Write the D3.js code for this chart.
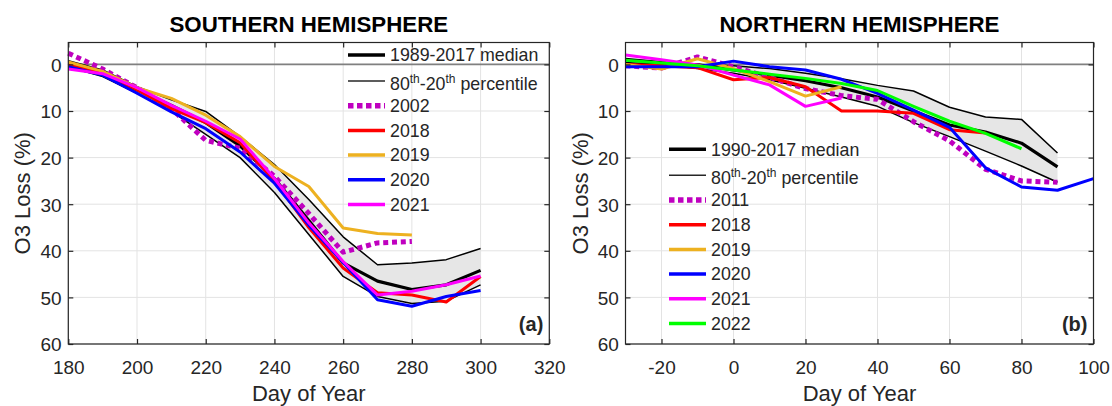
<!DOCTYPE html>
<html><head><meta charset="utf-8">
<script src="https://cdn.jsdelivr.net/npm/d3@7"></script>
<style>
body{margin:0;background:#fff}
svg{display:block}
text{font-family:"Liberation Sans",Arial,Helvetica,sans-serif}
</style>
</head><body>
<svg id="c" width="1112" height="406"></svg>
<script>
// ---------- Southern Hemisphere data ----------
const shDays   = [180,190,200,210,220,230,240,250,260,270,280,290,300];
const shUpper  = [-0.8,1.2,4.8,7.6,10.1,15.5,21.5,29,37,43,42.6,41.9,39.5];
const shMedian = [-0.3,2,5.5,8.8,12.5,17.5,24.5,33.5,42.6,46.5,48.3,47.3,44.2];
const shLower  = [0.5,2.6,6.2,10.1,15,20,27.5,36.5,45.5,49.8,51.3,50.8,47.3];
const sh2002 = [-2.4,1,5,9.5,16.3,18,24,32,40.3,38.3,38];
const sh2018 = [0,1.8,5.5,9.5,12.5,16.8,25,35,43.7,49,49.5,51,45.5];
const sh2019 = [-0.5,1.5,5,7.3,10.9,15.5,21.9,26.2,35.1,36.3,36.6];
const sh2020 = [0.5,2.3,6.2,10.2,13.8,18.8,25.5,34.5,42.5,50.5,51.9,49.8,48.5];
const sh2021 = [1,2,5,8.8,12.2,16,24.5,34,42.3,49.5,48.7,47.3,45.4];
const shXTicks = [180,200,220,240,260,280,300,320];

// ---------- Northern Hemisphere data ----------
const nhDays   = [-30,-20,-10,0,10,20,30,40,50,60,70,80,90,100];
const nhUpper  = [-0.9,-0.4,0,0.3,0.9,1.9,3.1,4.5,5.7,9.2,11.3,11.8,19];
const nhMedian = [-1.1,-0.4,0.1,1.2,2.3,3.5,5,7,10,13,14.5,16.9,22];
const nhLower  = [-0.4,0,0.9,1.9,3.3,5.1,7,9,12.5,15.5,18.6,21.8,25.3];
const nh2011 = [0.3,0.8,-1.6,0.5,2.8,5.2,6.7,7.5,12.3,16.4,22.5,25,25.3];
const nh2018 = [0,0.3,0.7,3.3,2.8,4.8,10,10,10.5,14,14.7];
const nh2019 = [0,1,-1.2,0.9,3.7,6.8,4.8];
const nh2020 = [0.5,0.5,0.5,-0.7,0.5,1.2,3.2,6.2,9.8,13.5,22.2,26.3,27,24.5];
const nh2021 = [-2,-1,0.1,2.3,4.4,9,7.2];
const nh2022 = [-0.9,-0.3,0.3,1.2,2.1,3,4.1,5.6,9,12.2,14.8,18.1];
const nhXTicks = [-20,0,20,40,60,80,100];

const yTicks = [0,10,20,30,40,50,60];

const C = {purple:"#BF00BF", red:"#FF0000", orange:"#EDB120", blue:"#0000FF", magenta:"#FF00FF", green:"#00FF00"};

const svg = d3.select("#c");
const TOP = 42.5, BOTTOM = 344;
const y = d3.scaleLinear().domain([-4.7, 60]).range([TOP, BOTTOM]);
const fmt = d => String(d); // plain hyphen minus like the original

function panel(cfg){
  const x = d3.scaleLinear().domain(cfg.xDomain).range(cfg.xRange);
  const [L,R] = cfg.xRange;
  const g = svg.append("g");

  // grid
  g.append("g").selectAll("line").data(cfg.xTicks).join("line")
    .attr("x1",d=>x(d)).attr("x2",d=>x(d)).attr("y1",TOP).attr("y2",BOTTOM)
    .attr("stroke","#e3e3e3").attr("stroke-width",1);
  g.append("g").selectAll("line").data(yTicks).join("line")
    .attr("x1",L).attr("x2",R).attr("y1",d=>y(d)).attr("y2",d=>y(d))
    .attr("stroke","#e3e3e3").attr("stroke-width",1);

  // shaded percentile band
  const n = cfg.upper.length;
  const band = cfg.days.slice(0,n).map((d,i)=>({d, u:cfg.upper[i], l:cfg.lower[i]}));
  g.append("path").datum(band)
    .attr("d", d3.area().x(p=>x(p.d)).y0(p=>y(p.u)).y1(p=>y(p.l)))
    .attr("fill","#e6e6e6");

  // zero line
  g.append("line").attr("x1",L).attr("x2",R).attr("y1",y(0)).attr("y2",y(0))
    .attr("stroke","#808080").attr("stroke-width",1.6);

  const line = d3.line().x(p=>x(p[0])).y(p=>y(p[1]));
  function series(vals, color, w, dash){
    const pts = vals.map((v,i)=>[cfg.days[i], v]);
    const p = g.append("path").datum(pts).attr("d", line)
      .attr("fill","none").attr("stroke",color).attr("stroke-width",w)
      .attr("stroke-linejoin","round");
    if(dash) p.attr("stroke-dasharray",dash);
  }
  series(cfg.upper,"#000",1.5);
  series(cfg.lower,"#000",1.5);
  series(cfg.median,"#000",3.2);
  cfg.years.forEach(s=>series(s.vals, s.color, s.dash?5:3, s.dash?"5,3.8":null));

  // frame
  g.append("rect").attr("x",L).attr("y",TOP).attr("width",R-L).attr("height",BOTTOM-TOP)
    .attr("fill","none").attr("stroke","#262626").attr("stroke-width",1.2);

  // axes with inside ticks
  const tl = 5;
  const xb = d3.axisBottom(x).tickValues(cfg.xTicks).tickFormat(fmt).tickSizeInner(-tl).tickSizeOuter(0).tickPadding(12);
  const xa = g.append("g").attr("transform",`translate(0,${BOTTOM})`).call(xb);
  const xt = d3.axisTop(x).tickValues(cfg.xTicks).tickSizeInner(-tl).tickSizeOuter(0).tickFormat("");
  const xta = g.append("g").attr("transform",`translate(0,${TOP})`).call(xt);
  const yl = d3.axisLeft(y).tickValues(yTicks).tickFormat(fmt).tickSizeInner(-tl).tickSizeOuter(0).tickPadding(12);
  const ya = g.append("g").attr("transform",`translate(${L},0)`).call(yl);
  const yr = d3.axisRight(y).tickValues(yTicks).tickSizeInner(-tl).tickSizeOuter(0).tickFormat("");
  const yra = g.append("g").attr("transform",`translate(${R},0)`).call(yr);
  [xa,xta,ya,yra].forEach(a=>{
    a.select(".domain").remove();
    a.selectAll(".tick line").attr("stroke","#262626").attr("stroke-width",1.2);
    a.selectAll("text").attr("font-size",19).attr("fill","#262626")
      .attr("font-family",'"Liberation Sans",Arial,sans-serif');
  });
  xa.selectAll(".tick text").attr("dy",null).attr("y",29.5);
  ya.selectAll(".tick text").attr("x",-6.7).attr("dy","0.36em");

  // title
  g.append("text").attr("x",(L+R)/2).attr("y",32).attr("text-anchor","middle")
    .attr("font-size",22.3).attr("font-weight","bold").attr("fill","#000").text(cfg.title);
  // axis labels
  g.append("text").attr("x",(L+R)/2).attr("y",401).attr("text-anchor","middle")
    .attr("font-size",22).attr("fill","#262626").text("Day of Year");
  g.append("text").attr("transform",`translate(${L-38},${(TOP+BOTTOM)/2}) rotate(-90)`)
    .attr("text-anchor","middle").attr("font-size",22).attr("fill","#262626").text("O3 Loss (%)");
  // panel letter
  g.append("text").attr("x",R-6).attr("y",331).attr("text-anchor","end")
    .attr("font-size",20).attr("font-weight","bold").attr("fill","#262626").text(cfg.letter);

  // legend
  const lg = g.append("g");
  const entries = [
    {label:cfg.medianLabel, color:"#000", w:3.5},
    {label:null, color:"#262626", w:1.5},
    ...cfg.years.map(s=>({label:s.name, color:s.color, w:s.dash?5.5:3.5, dash:s.dash}))
  ];
  entries.forEach((e,i)=>{
    const ly = cfg.legY + (i===0?0:26+(i-1)*24.7);
    const ln = lg.append("line").attr("x1",cfg.legX).attr("x2",cfg.legX+37)
      .attr("y1",ly).attr("y2",ly).attr("stroke",e.color).attr("stroke-width",e.w);
    if(e.dash) ln.attr("stroke-dasharray","5.5,3.5");
    const t = lg.append("text").attr("x",cfg.legX+42).attr("y",ly+6.2)
      .attr("font-size",17.8).attr("fill","#262626");
    if(e.label===null){
      t.attr("y",ly+8.5);
      t.append("tspan").text("80");
      t.append("tspan").attr("font-size",12).attr("dy",-7).text("th");
      t.append("tspan").attr("dy",7).text("-20");
      t.append("tspan").attr("font-size",12).attr("dy",-7).text("th");
      t.append("tspan").attr("dy",7).text(" percentile");
    } else t.text(e.label);
  });
}

panel({
  xDomain:[180,320], xRange:[68.3,549.3], xTicks:shXTicks, days:shDays,
  upper:shUpper, median:shMedian, lower:shLower,
  years:[
    {name:"2002", vals:sh2002, color:C.purple, dash:true},
    {name:"2018", vals:sh2018, color:C.red},
    {name:"2019", vals:sh2019, color:C.orange},
    {name:"2020", vals:sh2020, color:C.blue},
    {name:"2021", vals:sh2021, color:C.magenta}
  ],
  title:"SOUTHERN HEMISPHERE", letter:"(a)", medianLabel:"1989-2017 median",
  legX:348, legY:55
});

panel({
  xDomain:[-30,100], xRange:[625.5,1093.5], xTicks:nhXTicks, days:nhDays,
  upper:nhUpper, median:nhMedian, lower:nhLower,
  years:[
    {name:"2011", vals:nh2011, color:C.purple, dash:true},
    {name:"2018", vals:nh2018, color:C.red},
    {name:"2019", vals:nh2019, color:C.orange},
    {name:"2020", vals:nh2020, color:C.blue},
    {name:"2021", vals:nh2021, color:C.magenta},
    {name:"2022", vals:nh2022, color:C.green}
  ],
  title:"NORTHERN HEMISPHERE", letter:"(b)", medianLabel:"1990-2017 median",
  legX:669, legY:149.3
});
</script>
</body></html>
